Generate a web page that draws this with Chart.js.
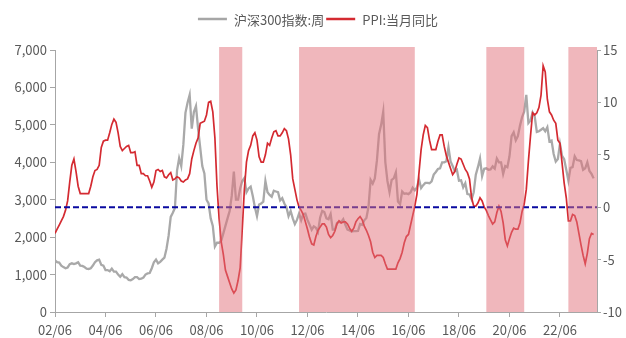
<!DOCTYPE html>
<html>
<head>
<meta charset="utf-8">
<script src="https://cdn.jsdelivr.net/npm/chart.js@4.4.1/dist/chart.umd.min.js"></script>
<style>
  html, body { margin: 0; padding: 0; background: #ffffff; }
  #wrap { width: 626px; height: 338px; }
</style>
</head>
<body>
<div id="wrap"><canvas id="c" width="626" height="338"></canvas></div>
<script>
// Monthly series, first point = 2002/06
const startYear = 2002;
const startMonth = 6;

// CSI 300 index level
const csi300 = [
  1380, 1330, 1320, 1240, 1200, 1170, 1190,
  1280, 1300, 1280, 1300, 1330, 1240, 1230, 1200, 1160, 1150, 1170, 1240,
  1330, 1380, 1400, 1260, 1240, 1120, 1120, 1090, 1160, 1080, 1080, 1000,
  940, 1010, 930, 920, 860, 850, 880, 930, 930, 880, 890, 920,
  1000, 1030, 1040, 1170, 1330, 1400, 1300, 1340, 1400, 1450, 1690, 2040,
  2540, 2650, 2780, 3780, 4110, 3900, 4470, 5320, 5590, 5800, 4900, 5340,
  5500, 4900, 4400, 3900, 3700, 3000, 2900, 2500, 2300, 1750, 1850, 1850,
  1900, 2100, 2300, 2500, 2700, 3100, 3750, 3000, 3000, 3300, 3500, 3580,
  3200, 3300, 3350, 3100, 2800, 2560, 2870, 2900, 2950, 3500, 3200, 3130,
  3080, 3240, 3220, 3200, 2980, 3040, 2900, 2800, 2560, 2700, 2500, 2350,
  2460, 2630, 2450, 2620, 2630, 2460, 2330, 2200, 2290, 2250, 2140, 2520,
  2700, 2670, 2500, 2480, 2620, 2200, 2200, 2380, 2410, 2400, 2480, 2330,
  2200, 2180, 2150, 2160, 2160, 2165, 2350, 2330, 2450, 2510, 2810, 3530,
  3430, 3570, 4050, 4750, 5000, 5350, 4000, 3500, 3200, 3530, 3570, 3730,
  2950, 2880, 3220, 3160, 3170, 3150, 3200, 3320, 3250, 3330, 3540, 3310,
  3390, 3450, 3450, 3440, 3490, 3670, 3740, 3820, 3840, 4000, 4000, 4030,
  4400, 4020, 3900, 3760, 3800, 3510, 3520, 3330, 3440, 3150, 3140, 3010,
  3200, 3670, 3870, 4100, 3630, 3830, 3840, 3800, 3810, 3890, 3830, 4100,
  4000, 4000, 3690, 3900, 3870, 4160, 4700, 4800, 4590, 4700, 4980, 5210,
  5350, 5800, 5050, 5120, 5330, 5220, 4810, 4830, 4870, 4910, 4830, 4940,
  4560, 4580, 4220, 4020, 4090, 4490, 4170, 4080, 3800, 3510, 3850, 3870,
  4160, 4060, 4050, 4030, 3800, 3840, 4000, 3770, 3690, 3570
];

// PPI, year-on-year change of the month (%)
const ppiYoY = [
  -2.5, -2.1, -1.7, -1.3, -0.9, -0.3, 0.6,
  2.4, 4.0, 4.6, 3.4, 2.0, 1.3, 1.3, 1.3, 1.3, 1.3, 2.0, 2.9,
  3.5, 3.6, 4.0, 5.7, 6.3, 6.4, 6.4, 7.1, 7.9, 8.4, 8.1, 7.1,
  5.8, 5.4, 5.6, 5.8, 5.9, 5.2, 5.2, 5.3, 4.0, 4.0, 3.2, 3.2,
  3.0, 3.0, 2.5, 1.9, 2.4, 3.5, 3.6, 3.4, 3.5, 2.9, 2.8, 3.1,
  3.3, 2.6, 2.7, 2.9, 2.8, 2.5, 2.4, 2.6, 2.7, 3.2, 4.6, 5.4,
  6.1, 6.6, 8.0, 8.1, 8.2, 8.8, 10.0, 10.1, 9.1, 6.6, 2.0, -1.1,
  -3.3, -4.5, -6.0, -6.6, -7.2, -7.8, -8.2, -7.9, -7.0, -5.8, -2.1, 1.7,
  4.3, 5.4, 5.9, 6.8, 7.1, 6.4, 4.8, 4.3, 4.3, 5.0, 6.1, 5.9,
  6.6, 7.2, 7.3, 6.8, 6.8, 7.1, 7.5, 7.3, 6.5, 5.0, 2.7, 1.7,
  0.7, 0.0, -0.3, -0.7, -1.4, -2.1, -2.9, -3.5, -3.6, -2.8, -2.2, -1.9,
  -1.6, -1.6, -1.9, -2.6, -2.9, -2.7, -2.3, -1.6, -1.3, -1.5, -1.4, -1.4,
  -1.6, -2.0, -2.3, -2.0, -1.4, -1.1, -0.9, -1.2, -1.8, -2.2, -2.7, -3.3,
  -4.3, -4.8, -4.6, -4.6, -4.6, -4.8, -5.4, -5.9, -5.9, -5.9, -5.9, -5.9,
  -5.3, -4.9, -4.3, -3.4, -2.8, -2.6, -1.7, -0.8, 0.1, 1.2, 3.3, 5.5,
  6.9, 7.8, 7.6, 6.4, 5.5, 5.5, 5.5, 6.3, 6.9, 6.9, 5.8, 4.9,
  4.3, 3.7, 3.1, 3.4, 4.1, 4.7, 4.6, 4.1, 3.6, 3.3, 2.7, 0.9,
  0.1, 0.1, 0.4, 0.9, 0.6, 0.0, -0.3, -0.8, -1.2, -1.6, -1.4, -0.5,
  0.1, -0.4, -1.5, -3.1, -3.7, -3.0, -2.4, -2.0, -2.1, -2.1, -1.5, -0.4,
  0.3, 1.7, 4.4, 6.8, 9.0, 8.8, 9.0, 9.5, 10.7, 13.5, 12.9, 10.3,
  9.1, 8.8, 8.3, 8.0, 6.4, 6.1, 4.2, 2.3, 0.9, -1.3, -1.3, -0.7,
  -0.8, -1.4, -2.5, -3.6, -4.6, -5.4, -4.4, -3.0, -2.5, -2.6
];

// Deflation periods (PPI below zero), shaded
const deflationPeriods = [
  ['2008/12', '2009/11'],
  ['2012/02', '2016/09'],
  ['2019/07', '2021/01'],
  ['2022/10', '2024/01']
];

const xTickLabels = ['02/06', '04/06', '06/06', '08/06', '10/06', '12/06',
                     '14/06', '16/06', '18/06', '20/06', '22/06'];
const leftTicks = [0, 1000, 2000, 3000, 4000, 5000, 6000, 7000];
const rightTicks = [-10, -5, 0, 5, 10, 15];
const seriesNames = ['沪深300指数:周', 'PPI:当月同比'];

// months elapsed since the first point
function monthIndex(s) {
  const [y, m] = s.split('/').map(Number);
  return (y - startYear) * 12 + (m - startMonth);
}
const X_MAX = 257.6;

const FONT = '"Noto Sans CJK SC", "Noto Sans", sans-serif';
const TEXT = '#595959';
const AXIS = '#a6a6a6';

const csiPoints = csi300.map((v, i) => ({ x: i, y: v }));
const ppiPoints = ppiYoY.map((v, i) => ({ x: i, y: v }));
const zeroLine = [{ x: 0, y: 0 }, { x: X_MAX, y: 0 }];

const shadePlugin = {
  id: 'shade',
  afterDatasetsDraw(chart) {
    const { ctx, chartArea, scales } = chart;
    ctx.save();
    ctx.fillStyle = 'rgba(226, 112, 122, 0.5)';
    deflationPeriods.forEach(([a, b]) => {
      const x0 = Math.max(scales.x.getPixelForValue(monthIndex(a)), chartArea.left);
      const x1 = Math.min(scales.x.getPixelForValue(monthIndex(b)), chartArea.right);
      ctx.fillRect(x0, chartArea.top - 3, x1 - x0, chartArea.bottom - chartArea.top + 3);
    });
    ctx.restore();
  }
};

const legendPlugin = {
  id: 'topLegend',
  afterDraw(chart) {
    const { ctx } = chart;
    const colors = ['#a6a6a6', '#d42a31'];
    ctx.save();
    ctx.font = '13px ' + FONT;
    ctx.textBaseline = 'middle';
    const lineW = 29, gapA = 7, gapB = 2;
    const widths = seriesNames.map(t => lineW + gapA + ctx.measureText(t).width);
    const total = widths[0] + gapB + widths[1];
    let x = 318 - total / 2;
    const y = 19;
    seriesNames.forEach((t, i) => {
      ctx.strokeStyle = colors[i];
      ctx.lineWidth = 2.5;
      ctx.beginPath();
      ctx.moveTo(x, y);
      ctx.lineTo(x + lineW, y);
      ctx.stroke();
      ctx.fillStyle = TEXT;
      ctx.fillText(t, x + lineW + gapA, y + 1);
      x += widths[i] + gapB;
    });
    ctx.restore();
  }
};

new Chart(document.getElementById('c'), {
  type: 'line',
  data: {
    datasets: [
      {
        label: 'zero',
        data: zeroLine,
        yAxisID: 'y1',
        borderColor: '#0a0aa0',
        borderWidth: 2,
        borderDash: [6, 3],
        pointRadius: 0,
        order: 0
      },
      {
        label: seriesNames[1],
        data: ppiPoints,
        yAxisID: 'y1',
        borderColor: '#d42a31',
        borderWidth: 1.7,
        pointRadius: 0,
        tension: 0,
        order: 1
      },
      {
        label: seriesNames[0],
        data: csiPoints,
        yAxisID: 'y',
        borderColor: '#a9a9a9',
        borderWidth: 2.3,
        pointRadius: 0,
        tension: 0,
        order: 2
      }
    ]
  },
  options: {
    responsive: false,
    animation: false,
    devicePixelRatio: 1,
    layout: { padding: { top: 50, left: 0, right: 0, bottom: 0 } },
    plugins: { legend: { display: false }, tooltip: { enabled: false } },
    scales: {
      x: {
        type: 'linear',
        min: 0,
        max: X_MAX,
        afterFit(s) { s.height = 26; },
        afterBuildTicks(s) {
          s.ticks = xTickLabels.map((_, i) => ({ value: i * 24 }));
        },
        ticks: {
          callback: (v) => xTickLabels[Math.round(v / 24)],
          color: TEXT,
          font: { family: FONT, size: 13 },
          padding: 5,
          maxRotation: 0,
          autoSkip: false
        },
        grid: { drawOnChartArea: false, drawTicks: true, tickLength: 5, color: AXIS },
        border: { display: true, color: AXIS, width: 1 }
      },
      y: {
        position: 'left',
        min: 0,
        max: 7000,
        afterFit(s) { s.width = 55; },
        afterBuildTicks(s) { s.ticks = leftTicks.map(v => ({ value: v })); },
        ticks: {
          callback: (v) => v.toLocaleString('en-US'),
          color: TEXT,
          font: { family: FONT, size: 13 },
          padding: 3
        },
        grid: { drawOnChartArea: false, drawTicks: true, tickLength: 5, color: AXIS },
        border: { display: true, color: AXIS, width: 1 }
      },
      y1: {
        position: 'right',
        min: -10,
        max: 15,
        afterFit(s) { s.width = 29; },
        afterBuildTicks(s) { s.ticks = rightTicks.map(v => ({ value: v })); },
        ticks: {
          callback: (v) => String(v),
          color: TEXT,
          font: { family: FONT, size: 13 },
          padding: 2
        },
        grid: { drawOnChartArea: false, drawTicks: true, tickLength: 4, color: AXIS },
        border: { display: true, color: AXIS, width: 1 }
      }
    }
  },
  plugins: [shadePlugin, legendPlugin]
});
</script>
</body>
</html>
